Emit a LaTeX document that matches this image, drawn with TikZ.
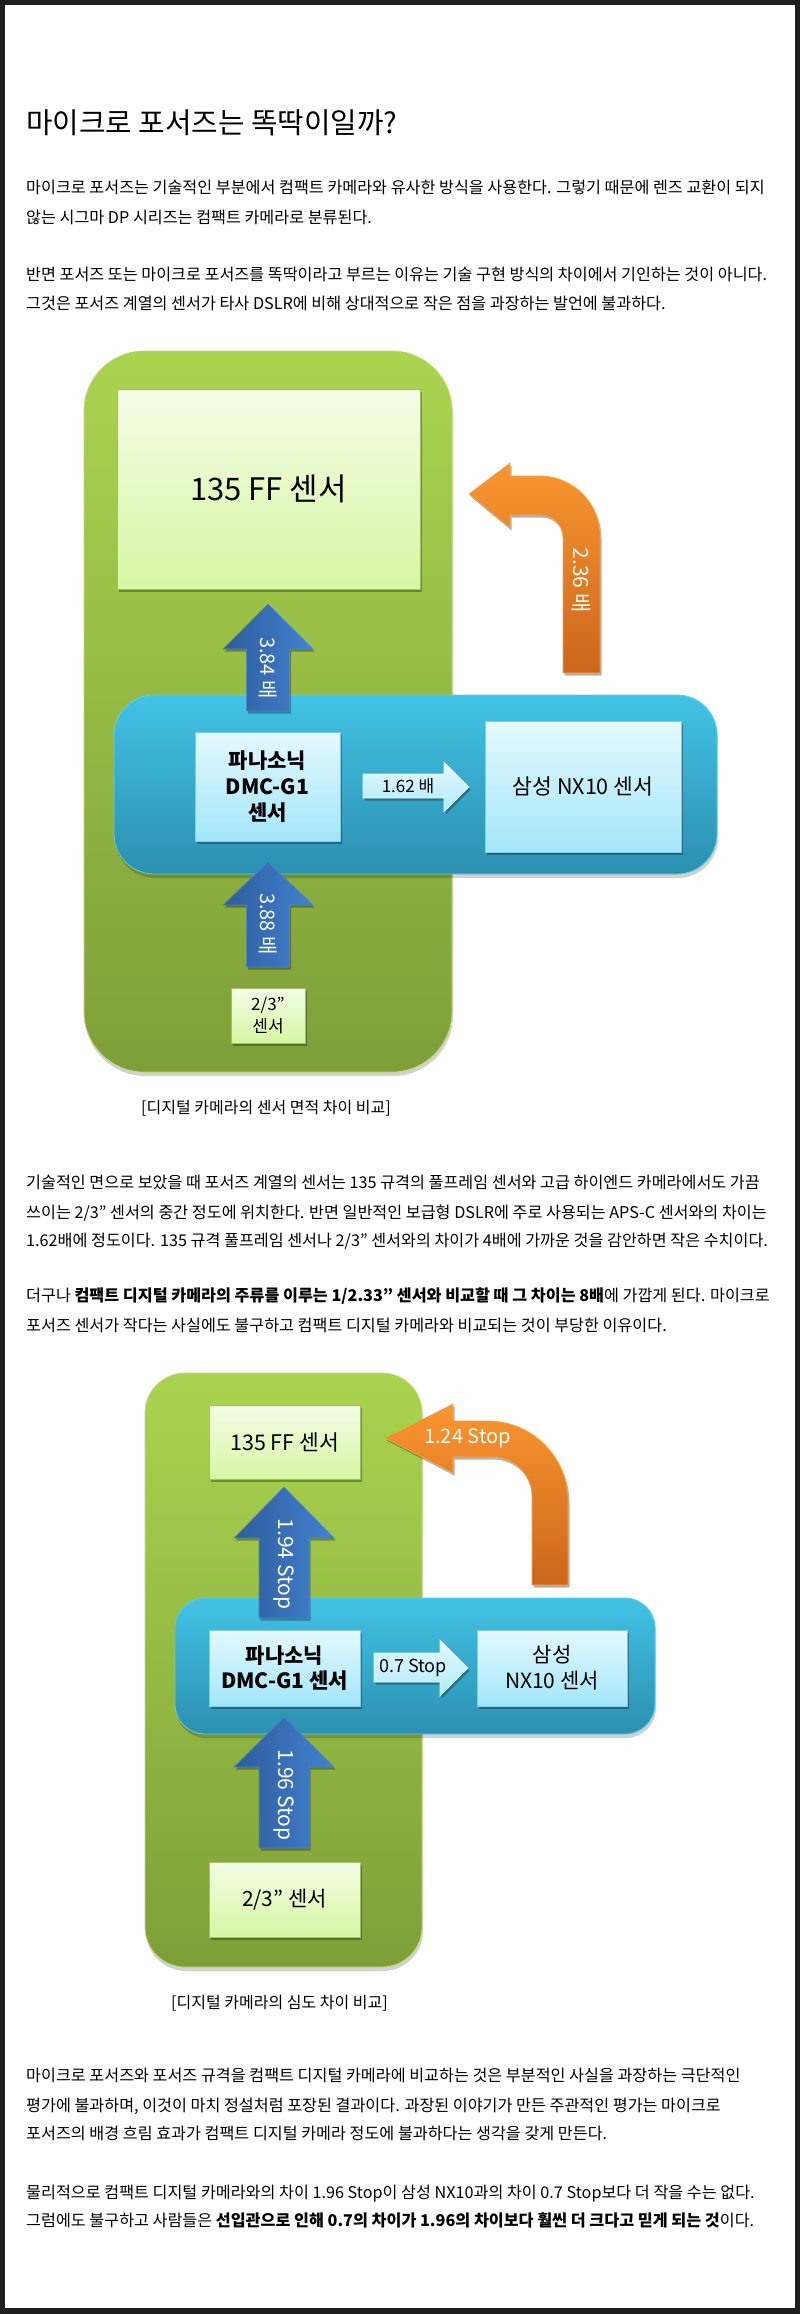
\documentclass[tikz,border=0pt]{standalone}
\usepackage{fontspec}
\setmainfont{Noto Sans CJK KR}
\usetikzlibrary{shadows}
\definecolor{framecol}{HTML}{1E1E1E}
\definecolor{gtop}{HTML}{AAD44F}
\definecolor{gbot}{HTML}{7E9F38}
\definecolor{lgtop}{HTML}{F3FDE6}
\definecolor{lgbot}{HTML}{D8F6A3}
\definecolor{lgline}{HTML}{A7BD72}
\definecolor{btop}{HTML}{42C3E6}
\definecolor{bbot}{HTML}{2C8FB0}
\definecolor{bline}{HTML}{5ACDEB}
\definecolor{lbtop}{HTML}{E4F9FE}
\definecolor{lbbot}{HTML}{A3E6FA}
\definecolor{lbline}{HTML}{86CBE3}
\definecolor{arl}{HTML}{2D5C9E}
\definecolor{arr}{HTML}{4282CE}
\definecolor{arline}{HTML}{4F86C6}
\definecolor{otop}{HTML}{F9962F}
\definecolor{obot}{HTML}{CC661C}
\begin{document}
\begin{tikzpicture}[x=1pt,y=-1pt,
  titletxt/.style={anchor=base west,inner sep=0pt,font=\fontsize{28.8}{34}\selectfont},
  bodytxt/.style={anchor=base west,inner sep=0pt,font=\fontsize{16.2}{19}\selectfont},
  captxt/.style={anchor=base west,inner sep=0pt,font=\fontsize{16}{19}\selectfont},
  bigshadow/.style={drop shadow={shadow xshift=1pt,shadow yshift=-4pt,opacity=0.18,fill=black}},
  boxshadow/.style={drop shadow={shadow xshift=1.5pt,shadow yshift=-2.5pt,opacity=0.3,fill=black}},
  greenbg/.style={top color=gtop,bottom color=gbot,draw=gtop!80!white,line width=0.8pt,bigshadow},
  bluebg/.style={top color=btop,bottom color=bbot,draw=bline,line width=0.8pt,bigshadow},
  lgbox/.style={top color=lgtop,bottom color=lgbot,draw=lgline,line width=0.6pt,boxshadow,inner sep=0pt,align=center},
  lbbox/.style={top color=lbtop,bottom color=lbbot,draw=lbline,line width=0.6pt,boxshadow,inner sep=0pt,align=center},
  bluearr/.style={left color=arl,right color=arr,draw=arline,line width=0.6pt,boxshadow},
  orangearr/.style={top color=otop,bottom color=obot,draw=otop!85!white,line width=0.6pt,boxshadow},
  rightarr/.style={top color=lbtop,bottom color=lbbot!85!white,draw=lbtop,line width=0.6pt,boxshadow},
  vlabel/.style={rotate=-90,text=white,inner sep=0pt}
]
\useasboundingbox (0,0) rectangle (800,2314);
\fill[framecol] (0,0) rectangle (800,2314);
\fill[white] (5,5) rectangle (795,2308);

% ---------- text block 1
\node[titletxt] (title) at (26,134) {마이크로 포서즈는 똑딱이일까?};
\node[bodytxt] (l1) at (26,194) {마이크로 포서즈는 기술적인 부분에서 컴팩트 카메라와 유사한 방식을 사용한다. 그렇기 때문에 렌즈 교환이 되지};
\node[bodytxt] (l2) at (26,224) {않는 시그마 DP 시리즈는 컴팩트 카메라로 분류된다.};
\node[bodytxt] (l3) at (26,281) {반면 포서즈 또는 마이크로 포서즈를 똑딱이라고 부르는 이유는 기술 구현 방식의 차이에서 기인하는 것이 아니다.};
\node[bodytxt] (l4) at (26,310) {그것은 포서즈 계열의 센서가 타사 DSLR에 비해 상대적으로 작은 점을 과장하는 발언에 불과하다.};

% ---------- diagram 1
\path[greenbg,rounded corners=60pt] (84,351) rectangle (452,1072);
\node[lgbox,minimum width=303pt,minimum height=200pt,font=\fontsize{31}{34}\selectfont] (ff1) at (268.5,489) {135 FF 센서};
\path[orangearr] (469,494) -- (510,463) -- (510,476) -- (540,476) .. controls (573.1,476) and (600,502.9) .. (600,536) -- (600,673) -- (563,673) -- (563,538) .. controls (563,525.3) and (552.7,515) .. (540,515) -- (510,515) -- (510,528) -- cycle;
\node[vlabel,font=\fontsize{21}{24}\selectfont] (o1) at (581.5,580) {2.36 배};
\path[bluebg,rounded corners=40pt] (114,695) rectangle (717,874);
\path[bluearr] (268,604) -- (313,649) -- (289.5,649) -- (289.5,711) -- (246.5,711) -- (246.5,649) -- (223,649) -- cycle;
\node[vlabel,font=\fontsize{20}{24}\selectfont] (a1) at (268,668) {3.84 배};
\node[lbbox,minimum width=145pt,minimum height=109pt,font=\fontsize{21}{26}\selectfont\bfseries] (pa1) at (267.5,786.5) {파나소닉\\DMC-G1\\센서};
\node[lbbox,minimum width=196pt,minimum height=131pt,font=\fontsize{21.5}{26}\selectfont] (sa1) at (583,786.5) {삼성 NX10 센서};
\path[rightarr] (363,774) -- (444,774) -- (444,762) -- (469,787) -- (444,812) -- (444,798) -- (363,798) -- cycle;
\node[inner sep=0pt,font=\fontsize{17}{20}\selectfont] (r1) at (408,786) {1.62 배};
\path[bluearr] (268,862) -- (313,905) -- (289.5,905) -- (289.5,967) -- (246.5,967) -- (246.5,905) -- (223,905) -- cycle;
\node[vlabel,font=\fontsize{20}{24}\selectfont] (a2) at (268,924) {3.88 배};
\node[lgbox,minimum width=74pt,minimum height=55pt,font=\fontsize{17}{22}\selectfont] (tt1) at (268,1015.5) {2/3”\\센서};
\node[captxt] (cap1) at (141,1113) {[디지털 카메라의 센서 면적 차이 비교]};

% ---------- text block 2
\node[bodytxt] (m1) at (26,1188) {기술적인 면으로 보았을 때 포서즈 계열의 센서는 135 규격의 풀프레임 센서와 고급 하이엔드 카메라에서도 가끔};
\node[bodytxt] (m2) at (26,1218) {쓰이는 2/3" 센서의 중간 정도에 위치한다. 반면 일반적인 보급형 DSLR에 주로 사용되는 APS-C 센서와의 차이는};
\node[bodytxt] (m3) at (26,1246) {1.62배에 정도이다. 135 규격 풀프레임 센서나 2/3" 센서와의 차이가 4배에 가까운 것을 감안하면 작은 수치이다.};
\node[bodytxt] (m4) at (26,1301) {더구나 \textbf{컴팩트 디지털 카메라의 주류를 이루는 1/2.33" 센서와 비교할 때 그 차이는 8배}에 가깝게 된다. 마이크로};
\node[bodytxt] (m5) at (26,1331) {포서즈 센서가 작다는 사실에도 불구하고 컴팩트 디지털 카메라와 비교되는 것이 부당한 이유이다.};

% ---------- diagram 2
\path[greenbg,rounded corners=40pt] (145,1373) rectangle (422,1967);
\node[lgbox,minimum width=151pt,minimum height=74pt,font=\fontsize{21.5}{24}\selectfont] (ff2) at (284.5,1442) {135 FF 센서};
\path[orangearr] (385,1438) -- (453,1404) -- (453,1421) -- (488,1421) .. controls (532.2,1421) and (568,1456.8) .. (568,1501) -- (568,1585) -- (532,1585) -- (532,1497) .. controls (532,1474.9) and (514.1,1457) .. (492,1457) -- (453,1457) -- (453,1473) -- cycle;
\node[inner sep=0pt,text=white,font=\fontsize{20}{24}\selectfont] (o2) at (467.5,1438) {1.24 Stop};
\path[bluebg,rounded corners=30pt] (175,1598) rectangle (655,1734);
\path[bluearr] (284,1487) -- (334,1538) -- (309,1538) -- (309,1618) -- (259,1618) -- (259,1538) -- (234,1538) -- cycle;
\node[vlabel,font=\fontsize{21}{24}\selectfont] (a3) at (284,1564) {1.94 Stop};
\node[lbbox,minimum width=151pt,minimum height=76pt,font=\fontsize{21}{25}\selectfont\bfseries] (pa2) at (284.5,1668) {파나소닉\\DMC-G1 센서};
\node[lbbox,minimum width=150pt,minimum height=76pt,font=\fontsize{21}{26}\selectfont] (sa2) at (552,1668) {삼성\\NX10 센서};
\path[rightarr] (374,1653) -- (440,1653) -- (440,1640) -- (468,1668) -- (440,1696) -- (440,1682) -- (374,1682) -- cycle;
\node[inner sep=0pt,font=\fontsize{18}{20}\selectfont] (r2) at (413,1668) {0.7 Stop};
\path[bluearr] (284,1717) -- (334,1767) -- (309,1767) -- (309,1848) -- (259,1848) -- (259,1767) -- (234,1767) -- cycle;
\node[vlabel,font=\fontsize{21}{24}\selectfont] (a4) at (284,1795) {1.96 Stop};
\node[lgbox,minimum width=151pt,minimum height=75pt,font=\fontsize{21}{24}\selectfont] (tt2) at (284.5,1899.5) {2/3” 센서};
\node[captxt] (cap2) at (171,2008) {[디지털 카메라의 심도 차이 비교]};

% ---------- text block 3
\node[bodytxt] (n1) at (26,2081) {마이크로 포서즈와 포서즈 규격을 컴팩트 디지털 카메라에 비교하는 것은 부분적인 사실을 과장하는 극단적인};
\node[bodytxt] (n2) at (26,2111) {평가에 불과하며, 이것이 마치 정설처럼 포장된 결과이다. 과장된 이야기가 만든 주관적인 평가는 마이크로};
\node[bodytxt] (n3) at (26,2139) {포서즈의 배경 흐림 효과가 컴팩트 디지털 카메라 정도에 불과하다는 생각을 갖게 만든다.};
\node[bodytxt] (n4) at (26,2198) {물리적으로 컴팩트 디지털 카메라와의 차이 1.96 Stop이 삼성 NX10과의 차이 0.7 Stop보다 더 작을 수는 없다.};
\node[bodytxt] (n5) at (26,2226) {그럼에도 불구하고 사람들은 \textbf{선입관으로 인해 0.7의 차이가 1.96의 차이보다 훨씬 더 크다고 믿게 되는 것}이다.};
\end{tikzpicture}
\end{document}
